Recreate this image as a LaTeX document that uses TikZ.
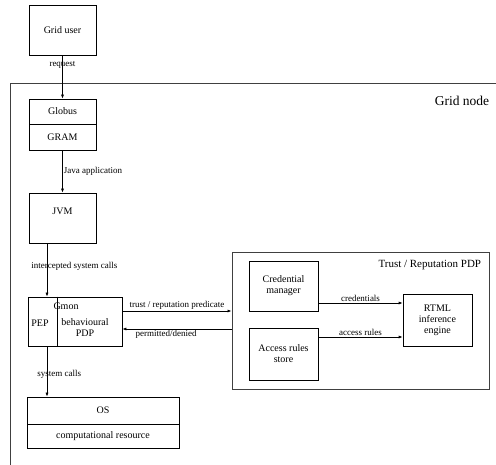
\documentclass[tikz,border=0pt]{standalone}
\usepackage{fontspec}
\setmainfont{Liberation Serif}
\usetikzlibrary{arrows.meta}

\tikzset{
  box/.style={draw,line width=0.7pt,inner sep=2pt,align=center,
    font=\fontsize{10}{11}\selectfont},
  plain/.style={inner sep=1pt,align=center,font=\fontsize{10}{11}\selectfont},
  lbl/.style={inner sep=1pt,font=\fontsize{9}{10}\selectfont},
  frame/.style={draw=black!75,line width=0.9pt}
}

\begin{document}
\begin{tikzpicture}[x=1pt,y=-1pt,>={Latex[length=4pt,width=3pt]},line width=0.7pt]
  \useasboundingbox (0,0) rectangle (496,465);

  % grid node frame (cut by the page)
  \draw[frame] (496,83) -| (10,465);
  \node[font=\fontsize{13.5}{15}\selectfont] (gridnode) at (462,101) {Grid node};

  \node[box,minimum width=67,minimum height=50](user) at (62.5,30) {Grid user};
  \node[box,minimum width=67,minimum height=25](globus) at (62.5,111.5) {Globus};
  \node[box,minimum width=67,minimum height=26](gram) at (62.5,137) {GRAM};
  \node[box,minimum width=67,minimum height=50,
    label={[plain,yshift=7pt]center:JVM}](jvm) at (62.5,218) {};

  % gmon
  \node[box,minimum width=94,minimum height=49,
    label={[plain,anchor=north,xshift=-9pt,yshift=-5pt]north:Gmon}](gmon) at (75,321.5) {};
  \node[plain](pep) at (40,323) {PEP};
  \node[plain](bpdp) at (85,328) {behavioural\\PDP};
  \draw (gmon.north -| 57,0) -- (gmon.south -| 57,0);

  \node[box,minimum width=152,minimum height=27](os) at (103,410.5) {OS};
  \node[box,minimum width=152,minimum height=24](res) at (103,436) {computational resource};

  % trust / reputation pdp
  \node[frame,minimum width=257,minimum height=137,
    label={[plain,anchor=north east,xshift=-7pt,yshift=-7pt,
      font=\fontsize{11}{12}\selectfont]north east:Trust / Reputation PDP}](trust) at (360.5,320.5) {};
  \node[box,minimum width=69,minimum height=50](cred) at (283.5,286) {Credential\\manager};
  \node[box,minimum width=69,minimum height=52](acc) at (283.5,354) {Access rules\\store};
  \node[box,minimum width=69,minimum height=52](rtml) at (437.5,320) {RTML\\inference\\engine};

  \path[->]
  (user) edge node[lbl,pos=0.21] {request} (globus)
  (gram) edge node[lbl,pos=0.49,right] {Java application} (jvm)
  ([xshift=-15.5pt]jvm.south) edge node[lbl,pos=0.43,anchor=west,xshift=-17pt] {intercepted system calls} ([xshift=-15.5pt]jvm.south |- gmon.north)
  ([xshift=-28pt]gmon.south) edge node[lbl,pos=0.55,anchor=west,xshift=-11pt] {system calls} ([xshift=-28pt]gmon.south |- os.north)
  ([yshift=10.5pt]gmon.east) edge node[lbl,above] {trust / reputation predicate} ([yshift=10.5pt]gmon.east -| trust.west)
  ([yshift=-7.5pt]gmon.east -| trust.west) edge node[lbl,pos=0.6,below] {permitted/denied} ([yshift=-7.5pt]gmon.east)
  ([yshift=-17pt]cred.east) edge node[lbl,above] {credentials} ([yshift=-17pt]cred.east -| rtml.west)
  ([yshift=17pt]acc.east) edge node[lbl,above] {access rules} ([yshift=17pt]acc.east -| rtml.west);
\end{tikzpicture}
\end{document}
